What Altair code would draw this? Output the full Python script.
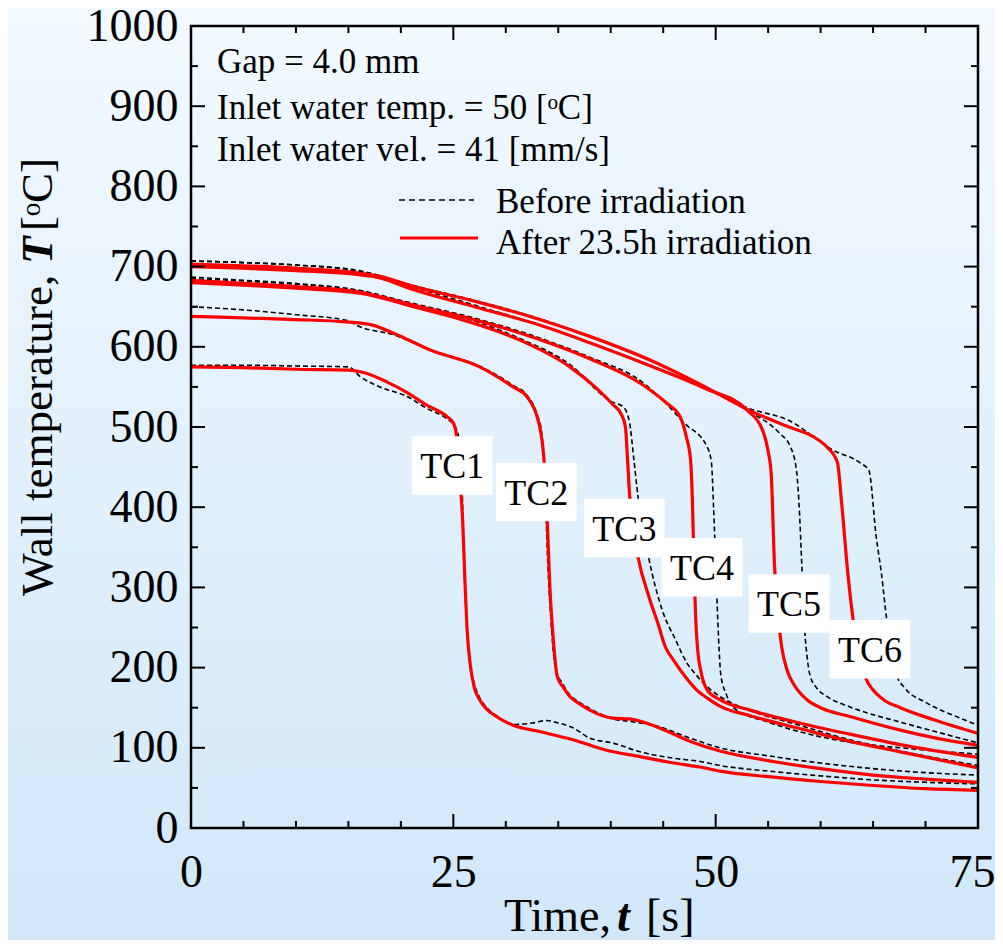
import altair as alt
import pandas as pd

# ---------------- data ----------------
# TC1
t1a = [0, 5, 10, 15, 16.7, 18.7, 20.6, 22.5, 24.4, 25.0, 25.3, 25.6, 25.9, 26.1, 26.3, 26.6, 27.0, 27.5, 28.2,
       29.1, 30.7, 33.3, 36.4, 39.6, 42.8, 46.0, 48.5, 50.4, 55, 60, 65, 70, 75]
T1a = [575, 574, 572, 571, 567, 556, 543, 527, 513, 505, 490, 440, 380, 310, 250, 205, 175, 160, 148,
       139, 128, 120, 110, 97, 89, 81, 76, 71, 64, 58, 53, 49, 47]
t1b = [0, 5, 10, 15, 16.1, 18.0, 20.6, 22.5, 24.4, 25.2, 25.6, 25.85, 26.0, 26.2, 26.5, 27.0, 27.5, 28.2, 29.1, 30.7,
       32.6, 33.9, 35.0, 36.4, 38.0, 40.2, 42.8, 46.0, 48.5, 50.4, 55, 60, 65, 70, 75]
T1b = [577, 577, 576, 575, 563, 550, 538, 523, 510, 500, 480, 420, 340, 270, 215, 180, 163, 150, 140, 129,
       131, 134, 131, 125, 112, 106, 95, 87, 83, 78, 71, 65, 60, 57, 55]
# TC2
t2a = [0, 5, 10, 14.8, 17.3, 19.3, 22.8, 27.5, 30.7, 32.0, 33.0, 33.3, 33.6, 33.9, 34.2, 34.5, 34.9, 35.5, 36.1, 37.0,
       38.0, 40.2, 41.8, 44.4, 47.6, 50.4, 55, 60, 65, 70, 75]
T2a = [638, 636, 634, 631, 627, 617, 596, 575, 550, 538, 512, 496, 466, 400, 300, 240, 189, 175, 164, 155,
       147, 137, 136, 126, 108, 96, 84, 74, 66, 61, 57]
t2b = [0, 5, 10, 14.8, 16.1, 19.3, 22.8, 27.5, 30.7, 32.0, 33.0, 33.4, 33.7, 34.0, 34.3, 34.7, 35.5, 36.1, 37.0, 38.0,
       40.2, 41.8, 44.4, 47.6, 50.4, 55, 60, 65, 70, 75]
T2b = [650, 646, 640, 633, 625, 615, 596, 576, 552, 540, 515, 495, 440, 330, 260, 202, 178, 166, 157, 149,
       136, 133, 127, 112, 100, 90, 81, 74, 69, 66]
# TC3
t3a = [0, 5, 10, 16.1, 21.2, 27.5, 31.4, 36.1, 38.5, 40.2, 41.0, 41.4, 41.6, 41.8, 42.2, 42.6, 43.6, 44.5, 45.2, 46.0,
       47.2, 48.2, 49.2, 50.4, 53.3, 58, 62.8, 67.6, 75]
T3a = [680, 677, 673, 667, 650, 627, 608, 575, 550, 528, 516, 500, 460, 415, 370, 338, 290, 255, 226, 209,
       187, 172, 162, 152, 140, 124, 108, 95, 75]
t3b = [0, 5, 10, 16.1, 21.2, 27.5, 31.4, 36.1, 40.0, 41.2, 41.8, 42.2, 42.6, 43.6, 44.9, 46.2, 47.2, 48.2, 48.8, 50.4,
       53.0, 58, 62.8, 67.6, 75]
T3b = [685, 682, 678, 670, 652, 630, 610, 578, 532, 525, 505, 460, 413, 338, 272, 234, 207, 190, 181, 164,
       148, 128, 110, 96, 78]
# TC4
t4a = [0, 5, 10, 16.1, 21.2, 27.5, 33, 38, 43, 45.3, 46.6, 47.2, 47.6, 47.8, 47.95, 48.1, 48.3, 48.6, 49.2, 50.4,
       53.3, 58, 62.8, 67.6, 75]
T4a = [683, 679, 675, 668, 652, 632, 610, 585, 553, 530, 513, 488, 460, 400, 320, 260, 220, 195, 172, 160,
       147, 131, 117, 104, 88]
t4b = [0, 5, 10, 16.1, 21.2, 27.5, 33, 38, 43, 45.3, 47.0, 49.2, 49.6, 49.8, 50.0, 50.2, 50.5, 51.0, 51.7, 55,
       58, 63.8, 67.6, 75]
T4b = [687, 683, 679, 670, 654, 634, 612, 587, 556, 529, 505, 475, 455, 400, 330, 260, 190, 167, 150, 132,
       120, 105, 100, 92]
# TC5
t5a = [0, 5, 10, 16, 18, 21, 27, 33, 38, 44, 49, 53, 54.5, 55.0, 55.3, 55.6, 55.9, 56.3, 56.8, 57.5,
       58.7, 60, 62.8, 67.6, 71, 75]
T5a = [700, 698, 695, 690, 686, 672, 650, 628, 605, 575, 548, 521, 495, 470, 440, 330, 270, 225, 197, 178,
       160, 150, 139, 122, 112, 103]
t5b = [0, 5, 10, 16, 21, 27, 33, 38, 44, 49, 53, 56.1, 57.1, 57.7, 58.0, 58.2, 58.4, 58.7, 59.0, 59.6,
       60.6, 62.8, 67.6, 71, 75]
T5b = [707, 705, 702, 694, 675, 652, 628, 605, 575, 548, 521, 492, 476, 446, 390, 330, 265, 215, 190, 175,
       164, 151, 132, 120, 106]
# TC6
t6a = [0, 5, 10, 16, 18, 21, 27, 33, 38, 44, 49, 53, 57, 59.3, 60.6, 61.6, 62.0, 62.6, 63.2, 64.3,
       65, 66, 67.6, 70.8, 75]
T6a = [703, 701, 698, 692, 688, 676, 657, 635, 613, 582, 550, 522, 500, 488, 475, 456, 406, 317, 250, 187,
       172, 160, 150, 135, 118]
t6b = [0, 5, 10, 16, 21, 27, 33, 38, 44, 49, 53, 57, 61.2, 63.8, 64.6, 65.3, 65.8, 66.3, 67.3, 68,
       70.1, 73.3, 75]
T6b = [707, 705, 702, 695, 677, 658, 636, 613, 582, 550, 524, 508, 471, 455, 446, 363, 317, 260, 189, 175,
       156, 137, 128]

tc_names = ["TC1", "TC2", "TC3", "TC4", "TC5", "TC6"]
label_t = [24.9, 32.9, 41.3, 48.7, 57.0, 64.7]
label_T = [452, 419, 374, 325, 280, 223]

x_major = [0, 25, 50, 75]
x_minor = [5, 10, 15, 20, 30, 35, 40, 45, 55, 60, 65, 70]
y_major = list(range(0, 1001, 100))
y_minor = list(range(50, 1000, 100))

info_lines = ["Gap = 4.0 mm", "Inlet water temp. = 50 [ᵒC]", "Inlet water vel. = 41 [mm/s]"]
legend_labels = ["Before irradiation", "After 23.5h irradiation"]

# ---------------- tables ----------------
after = [(t1a, T1a), (t2a, T2a), (t3a, T3a), (t4a, T4a), (t5a, T5a), (t6a, T6a)]
before = [(t1b, T1b), (t2b, T2b), (t3b, T3b), (t4b, T4b), (t5b, T5b), (t6b, T6b)]


def long(series):
    rows = []
    for name, (ts, Ts) in zip(tc_names, series):
        for i, (a, b) in enumerate(zip(ts, Ts)):
            rows.append({"t": a, "T": b, "tc": name, "i": i})
    return pd.DataFrame(rows)


df_after = long(after)
df_before = long(before)
df_lab = pd.DataFrame({"name": tc_names, "t": label_t, "T": label_T})
one = pd.DataFrame({"a": [0]})

W, H = 787, 802
PB = 112
PR = 17
FONT = "Liberation Serif"

xscale = alt.Scale(domain=[0, 75], nice=False, zero=False)
yscale = alt.Scale(domain=[0, 1000], nice=False, zero=False)
xaxis = alt.Axis(values=x_major, title=None, domain=False, ticks=False, tickSize=0, grid=False,
                 labelFont=FONT, labelFontSize=46, labelColor="black", labelPadding=22,
                 labelFlush=False, labelOverlap=False, zindex=1, format="d",
                 labelAlign={"condition": {"test": "datum.value == 75", "value": "right"},
                             "value": "center"},
                 labelOffset={"condition": {"test": "datum.value == 75", "value": 17},
                              "value": 0})
yaxis = alt.Axis(values=y_major, title=None, domain=False, ticks=False, tickSize=0, grid=False,
                 labelFont=FONT, labelFontSize=46, labelColor="black", labelPadding=13,
                 labelOverlap=False, zindex=1, format="d")


def X(f):
    return alt.X(f, scale=xscale, axis=xaxis)


def Y(f):
    return alt.Y(f, scale=yscale, axis=yaxis)


# background gradient
bg = alt.Chart(one).mark_rect(
    fill=alt.LinearGradient(gradient="linear",
                            stops=[alt.GradientStop(color="#F2F9FF", offset=0),
                                   alt.GradientStop(color="#D0E8FA", offset=1)],
                            x1=0, x2=0, y1=0, y2=1)
).encode(x=alt.value(-183), x2=alt.value(W + PR), y=alt.value(-18), y2=alt.value(H + PB))

lines_before = alt.Chart(df_before).mark_line(
    color="black", strokeWidth=1.6, strokeDash=[5, 3], interpolate="monotone", clip=True
).encode(x=X("t:Q"), y=Y("T:Q"), detail="tc:N", order="i:Q")

lines_after = alt.Chart(df_after).mark_line(
    color="#FF0000", strokeWidth=3.2, interpolate="monotone", clip=True
).encode(x=X("t:Q"), y=Y("T:Q"), detail="tc:N", order="i:Q")

# TC label boxes and text
lab_box = alt.Chart(df_lab).transform_calculate(
    x0="datum.t - 3.85", x1="datum.t + 3.85", y0="datum.T - 36.5", y1="datum.T + 36.5"
).mark_rect(color="white").encode(x=X("x0:Q"), x2="x1:Q", y=Y("y0:Q"), y2="y1:Q")
lab_txt = alt.Chart(df_lab).mark_text(font=FONT, fontSize=36, color="black", baseline="middle",
                                       align="center", dy=2).encode(
    x=X("t:Q"), y=Y("T:Q"), text="name:N")

# ticks (inward, all four sides)
dfxM = pd.DataFrame({"v": x_major})
dfxm = pd.DataFrame({"v": x_minor})
dfyM = pd.DataFrame({"v": y_major})
dfym = pd.DataFrame({"v": y_minor})
tick_layers = []
for d, L in [(dfxM, 14), (dfxm, 7)]:
    tick_layers.append(alt.Chart(d).mark_rule(color="black", strokeWidth=2).encode(
        x=X("v:Q"), y=alt.value(H), y2=alt.value(H - L)))
    tick_layers.append(alt.Chart(d).mark_rule(color="black", strokeWidth=2).encode(
        x=X("v:Q"), y=alt.value(0), y2=alt.value(L)))
for d, L in [(dfyM, 14), (dfym, 7)]:
    tick_layers.append(alt.Chart(d).mark_rule(color="black", strokeWidth=2).encode(
        y=Y("v:Q"), x=alt.value(0), x2=alt.value(L)))
    tick_layers.append(alt.Chart(d).mark_rule(color="black", strokeWidth=2).encode(
        y=Y("v:Q"), x=alt.value(W), x2=alt.value(W - L)))

frame = alt.Chart(one).mark_rect(filled=False, stroke="black", strokeWidth=2.5).encode(
    x=alt.value(0), x2=alt.value(W), y=alt.value(0), y2=alt.value(H))


def txt(s, x, y, size=35, align="left", baseline="middle", angle=0, style="normal", weight="normal"):
    return alt.Chart(one).mark_text(font=FONT, fontSize=size, color="black", align=align,
                                    baseline=baseline, angle=angle, fontStyle=style,
                                    fontWeight=weight).encode(
        x=alt.value(x), y=alt.value(y), text=alt.value(s))


info = [txt(info_lines[0], 26, 36), txt(info_lines[1], 26, 82), txt(info_lines[2], 26, 124)]

leg_rule_b = alt.Chart(one).mark_rule(color="black", strokeWidth=1.6, strokeDash=[6, 4]).encode(
    x=alt.value(208), x2=alt.value(283), y=alt.value(174))
leg_rule_a = alt.Chart(one).mark_rule(color="#FF0000", strokeWidth=3.2).encode(
    x=alt.value(209), x2=alt.value(287), y=alt.value(212))
leg_txt = [txt(legend_labels[0], 305, 176), txt(legend_labels[1], 305, 217)]

# axis titles (mixed styles)
XT_Y = 905
xt = [txt("Time,", 420, XT_Y, size=46, align="right", baseline="alphabetic"),
      txt("t", 426, XT_Y, size=46, baseline="alphabetic", style="italic", weight="bold"),
      txt("[s]", 455, XT_Y, size=46, baseline="alphabetic")]
yt = [txt("Wall temperature,", -139, 570, size=45, baseline="alphabetic", angle=270),
      txt("T", -139, 238, size=45, baseline="alphabetic", angle=270, style="italic", weight="bold"),
      txt("[ᵒC]", -139, 205, size=45, baseline="alphabetic", angle=270)]

chart = alt.layer(
    bg, lines_before, lines_after, lab_box, lab_txt, *tick_layers, frame,
    *info, leg_rule_b, leg_rule_a, *leg_txt, *xt, *yt
).properties(
    width=W, height=H,
    autosize=alt.AutoSizeParams(type="none"),
    padding={"left": 183, "top": 18, "right": PR, "bottom": PB},
).configure_view(stroke=None)

chart.save("out.html", embed_options={"renderer": "svg", "actions": False})
